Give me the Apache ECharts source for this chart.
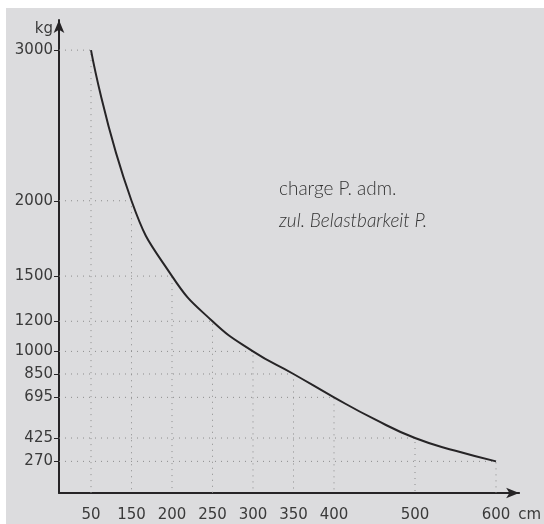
<!DOCTYPE html>
<html><head><meta charset="utf-8">
<script src="https://cdn.jsdelivr.net/npm/echarts@6/dist/echarts.min.js"></script>
<style>
html,body{margin:0;padding:0;background:#ffffff;width:544px;height:524px;overflow:hidden}
#bg{position:absolute;left:6px;top:8px;width:538px;height:516px;background:#dcdcde}
#c{position:absolute;left:0;top:0;width:544px;height:524px}
</style>
</head><body><div id="bg"></div><div id="c"></div>
<script>
// ---- data ----
const categories = ['50','150','200','250','300','350','400','450','500','550','600'];
const loadKg = [3000, 2000, 1500, 1200, 1000, 850, 695, 550, 425, 340, 270];
const xTickLabels = ['50','150','200','250','300','350','400','500','600'];
const yTickValues = [270, 425, 695, 850, 1000, 1200, 1500, 2000, 3000];
const xUnit = 'cm';
const yUnit = 'kg';
const noteLines = ['charge P. adm.', 'zul. Belastbarkeit P.'];

// ---- layout ----
const G0_LEFT = 59, G1_LEFT = 70.75, G1_WIDTH = 445.5, TOP = 20, BOTTOM = 31;
const Y_MIN = 60, Y_MAX = 3200;
const axisColor = '#262426', textColor = '#3a3a3a', gridColor = '#8c8c8c';
const labelFont = { fontFamily: 'DejaVu Sans', fontSize: 15, color: textColor };

// guide (dotted) lines only at the labelled points
const points = [];
categories.forEach((c, i) => { if (xTickLabels.indexOf(c) >= 0) points.push([c, loadKg[i]]); });

const chart = echarts.init(document.getElementById('c'), null, { renderer: 'canvas' });
chart.setOption({
  animation: false,
  backgroundColor: 'transparent',
  grid: [
    { left: G0_LEFT, right: 20, top: TOP, bottom: BOTTOM },
    { left: G1_LEFT, width: G1_WIDTH, top: TOP, bottom: BOTTOM }
  ],
  xAxis: [
    {
      gridIndex: 0, type: 'value', min: 0, max: 1,
      axisLine: { show: true, lineStyle: { color: axisColor, width: 2 }, symbol: ['none', 'arrow'], symbolSize: [8, 13] },
      axisTick: { show: false }, axisLabel: { show: false }, splitLine: { show: false },
      name: xUnit, nameLocation: 'end', nameGap: -1,
      nameTextStyle: Object.assign({}, labelFont, { align: 'left', verticalAlign: 'top', padding: [15, 0, 0, 0] })
    },
    {
      gridIndex: 1, type: 'category', data: categories, boundaryGap: true,
      axisLine: { show: false }, axisTick: { show: false }, splitLine: { show: false },
      axisLabel: Object.assign({}, labelFont, {
        interval: 0, margin: 15,
        formatter: v => (xTickLabels.indexOf(v) >= 0 ? v : '')
      })
    }
  ],
  yAxis: [
    {
      gridIndex: 0, type: 'value', min: Y_MIN, max: Y_MAX,
      axisLine: { show: true, lineStyle: { color: axisColor, width: 2 }, symbol: ['none', 'arrow'], symbolSize: [8, 13] },
      axisTick: { show: true, customValues: yTickValues, length: 5, lineStyle: { color: axisColor, width: 1 } },
      axisLabel: Object.assign({}, labelFont, { customValues: yTickValues, margin: 6, formatter: v => String(v) }),
      splitLine: { show: false },
      name: yUnit, nameLocation: 'end', nameGap: -9,
      nameTextStyle: Object.assign({}, labelFont, { align: 'right', verticalAlign: 'middle', padding: [0, 6, 0, 0] })
    },
    {
      gridIndex: 1, type: 'value', min: Y_MIN, max: Y_MAX, show: false,
      splitLine: { show: false }
    }
  ],
  series: [
    {
      type: 'custom', xAxisIndex: 1, yAxisIndex: 1, z: 1, silent: true,
      data: points,
      renderItem: function (params, api) {
        const pt = api.coord([api.value(0), api.value(1)]);
        const cs = params.coordSys;
        const leftX = cs.x - (G1_LEFT - G0_LEFT);
        const bottomY = cs.y + cs.height;
        return {
          type: 'polyline',
          shape: { points: [[leftX, pt[1]], [pt[0], pt[1]], [pt[0], bottomY]] },
          style: { stroke: gridColor, lineWidth: 1, lineDash: [1, 5], fill: null }
        };
      }
    },
    {
      type: 'line', xAxisIndex: 1, yAxisIndex: 1, z: 3,
      data: loadKg, smooth: 0.5, symbol: 'none',
      lineStyle: { color: axisColor, width: 2 }
    }
  ],
  graphic: [
    { type: 'text', left: 279, top: 179, style: { text: noteLines[0], font: '300 19px Lato', fill: '#333333' } },
    { type: 'text', left: 279, top: 211, style: { text: noteLines[1], font: 'italic 300 19px Lato', fill: '#333333' } }
  ]
});
</script>
</body></html>
